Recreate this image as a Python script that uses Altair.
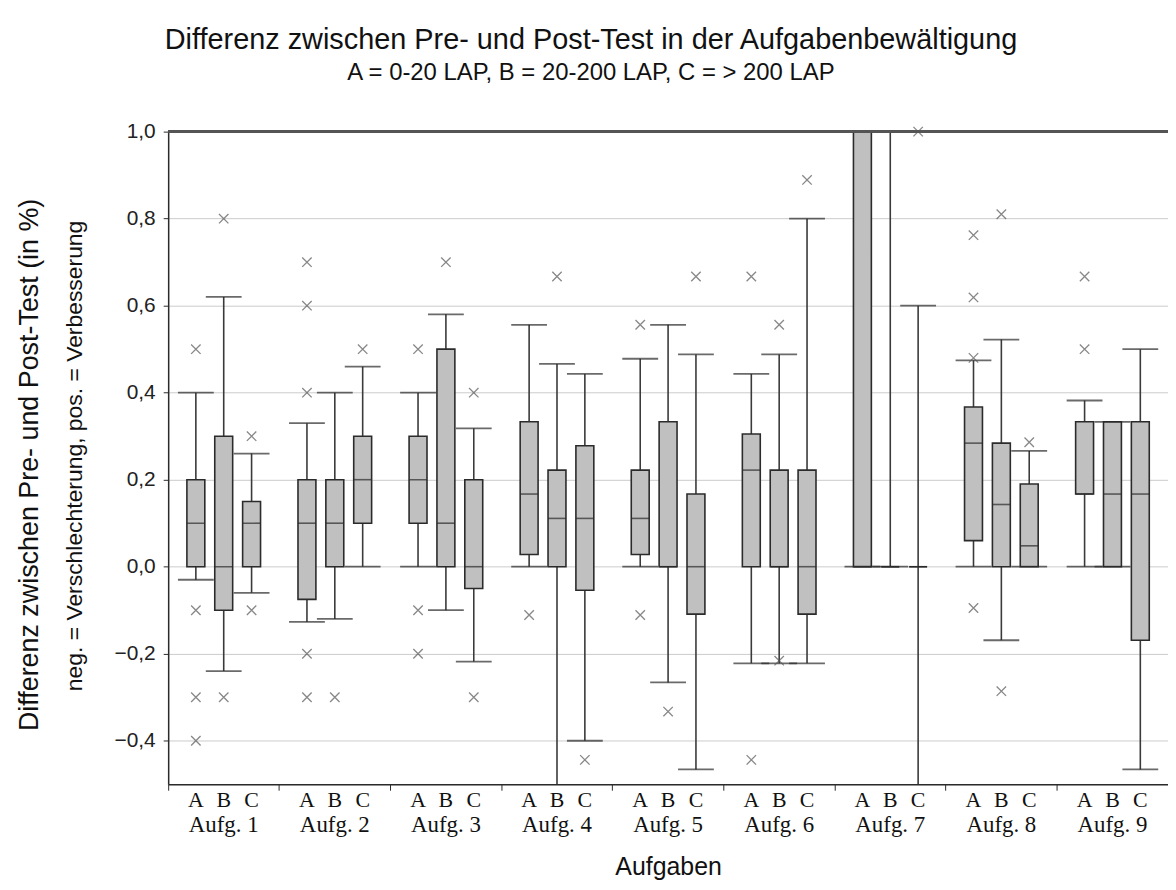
import altair as alt
import pandas as pd

groups = [f"Aufg. {i}" for i in range(1, 10)]
cats = ["A", "B", "C"]

# per group A, B, C
lower_whisker = [-0.03, -0.24, -0.06,
                 -0.127, -0.12, 0.0,
                 0.0, -0.10, -0.218,
                 0.0, -0.60, -0.40,
                 0.0, -0.266, -0.466,
                 -0.222, -0.222, -0.222,
                 0.0, 0.0, -0.60,
                 0.0, -0.169, 0.0,
                 0.0, 0.0, -0.466]
q1 = [0.0, -0.10, 0.0,
      -0.075, 0.0, 0.10,
      0.10, 0.0, -0.05,
      0.028, 0.0, -0.054,
      0.028, 0.0, -0.109,
      0.0, 0.0, -0.109,
      0.0, 0.0, 0.0,
      0.06, 0.0, 0.0,
      0.167, 0.0, -0.169]
median = [0.10, 0.0, 0.10,
          0.10, 0.10, 0.20,
          0.20, 0.10, 0.0,
          0.167, 0.111, 0.111,
          0.111, 0.0, 0.0,
          0.222, 0.0, 0.0,
          0.0, 0.0, 0.0,
          0.284, 0.143, 0.048,
          0.167, 0.167, 0.167]
q3 = [0.20, 0.30, 0.15,
      0.20, 0.20, 0.30,
      0.30, 0.50, 0.20,
      0.333, 0.222, 0.278,
      0.222, 0.333, 0.167,
      0.305, 0.222, 0.222,
      1.0, 0.0, 0.0,
      0.367, 0.284, 0.19,
      0.333, 0.333, 0.333]
upper_whisker = [0.40, 0.62, 0.26,
                 0.33, 0.40, 0.46,
                 0.40, 0.58, 0.318,
                 0.556, 0.466, 0.443,
                 0.478, 0.556, 0.488,
                 0.443, 0.488, 0.80,
                 1.0, 1.0, 0.60,
                 0.474, 0.522, 0.266,
                 0.382, 0.333, 0.50]

out_group = [1, 1, 1, 1, 1, 1, 1, 1,
             2, 2, 2, 2, 2, 2, 2,
             3, 3, 3, 3, 3, 3,
             4, 4, 4,
             5, 5, 5, 5,
             6, 6, 6, 6, 6,
             7,
             8, 8, 8, 8, 8, 8, 8,
             9, 9]
out_cat = ["A", "A", "A", "A", "B", "B", "C", "C",
           "A", "A", "A", "A", "A", "B", "C",
           "A", "A", "A", "B", "C", "C",
           "A", "B", "C",
           "A", "A", "B", "C",
           "A", "A", "B", "B", "C",
           "C",
           "A", "A", "A", "A", "B", "B", "C",
           "A", "A"]
out_value = [0.5, -0.1, -0.3, -0.4, 0.8, -0.3, 0.3, -0.1,
             0.7, 0.6, 0.4, -0.2, -0.3, -0.3, 0.5,
             0.5, -0.1, -0.2, 0.7, 0.4, -0.3,
             -0.111, 0.667, -0.444,
             0.556, -0.111, -0.333, 0.667,
             0.667, -0.444, 0.556, -0.216, 0.889,
             1.0,
             0.762, 0.619, 0.48, -0.095, 0.81, -0.286, 0.286,
             0.667, 0.5]

boxes = pd.DataFrame({
    "group": [g for g in groups for _ in cats],
    "cat": cats * len(groups),
    "lw": lower_whisker, "q1": q1, "med": median, "q3": q3, "uw": upper_whisker,
})
outliers = pd.DataFrame({
    "group": [groups[i - 1] for i in out_group],
    "cat": out_cat,
    "value": out_value,
})

W, H = 1005, 656
DARK = "#2b2b2b"

xenc = alt.X("group:N", sort=groups,
             scale=alt.Scale(paddingInner=0, paddingOuter=0),
             axis=alt.Axis(title="Aufgaben", labelAngle=0, bandPosition=0,
                           tickSize=6, tickColor=DARK,
                           domainColor=DARK, domainWidth=1.5,
                           labelFont="Liberation Serif", labelFontSize=23,
                           labelColor="#111", labelPadding=24,
                           titleFont="Liberation Sans", titleFontSize=25,
                           titleFontWeight="normal", titleColor="#111",
                           titlePadding=18, grid=False))
xoff = alt.XOffset("cat:N", sort=cats,
                   scale=alt.Scale(paddingInner=0.357, paddingOuter=0.672))
yscale = alt.Scale(domain=[-0.5, 1.0], nice=False, zero=False)
yaxis = alt.Axis(values=[-0.4, -0.2, 0.0, 0.2, 0.4, 0.6, 0.8, 1.0],
                 labelExpr="replace(format(datum.value, '.1f'), '.', ',')",
                 title=None, grid=True, gridColor="#cccccc", gridWidth=1,
                 tickSize=5, tickColor=DARK, domainColor=DARK, domainWidth=1.5,
                 labelFont="Liberation Sans", labelFontSize=21,
                 labelColor="#222", labelPadding=8)

base = alt.Chart(boxes)

whisk = base.mark_rule(color="#3a3a3a", strokeWidth=1.6, clip=True).encode(
    x=xenc, xOffset=xoff,
    y=alt.Y("lw:Q", scale=yscale, axis=yaxis), y2="uw:Q")
box = base.mark_bar(fill="#c0c0c0", stroke=DARK, strokeWidth=1.6, clip=True).encode(
    x=xenc, xOffset=xoff, y=alt.Y("q1:Q", scale=yscale), y2="q3:Q")
med = base.mark_tick(color=DARK, thickness=1.6, size=18, clip=True).encode(
    x=xenc, xOffset=xoff, y=alt.Y("med:Q", scale=yscale))
cap_lo = base.mark_tick(color=DARK, thickness=1.8, size=36, clip=True).encode(
    x=xenc, xOffset=xoff, y=alt.Y("lw:Q", scale=yscale))
cap_hi = base.mark_tick(color=DARK, thickness=1.8, size=36, clip=True).encode(
    x=xenc, xOffset=xoff, y=alt.Y("uw:Q", scale=yscale))
pts = alt.Chart(outliers).mark_point(
    shape="M-1,-1L1,1M-1,1L1,-1", filled=False, stroke="#555555",
    strokeWidth=1.3, size=90).encode(
    x=xenc, xOffset=xoff, y=alt.Y("value:Q", scale=yscale))
abc = base.mark_text(font="Liberation Serif", fontSize=22, color="#111",
                     baseline="middle").encode(
    x=xenc, xOffset=xoff, y=alt.value(H + 16), text="cat:N")
frame = alt.Chart(boxes).mark_rule(color="#555555", strokeWidth=1.5).encode(
    y=alt.datum(1.0, scale=yscale))

titles = pd.DataFrame({
    "t": ["Differenz zwischen Pre- und Post-Test in der Aufgabenbewältigung",
          "A = 0-20 LAP, B = 20-200 LAP, C = > 200 LAP"],
})
t1 = alt.Chart(titles.iloc[[0]]).mark_text(font="Liberation Sans", fontSize=29,
                                           color="#111").encode(
    x=alt.value(425), y=alt.value(-92), text="t:N")
t2 = alt.Chart(titles.iloc[[1]]).mark_text(font="Liberation Sans", fontSize=24,
                                           color="#111").encode(
    x=alt.value(425), y=alt.value(-59), text="t:N")

ytitles = pd.DataFrame({
    "t": ["Differenz zwischen Pre- und Post-Test (in %)",
          "neg. = Verschlechterung, pos. = Verbesserung"],
})
yt1 = alt.Chart(ytitles.iloc[[0]]).mark_text(font="Liberation Sans", fontSize=27,
                                             angle=270, color="#111").encode(
    x=alt.value(-139), y=alt.value(335), text="t:N")
yt2 = alt.Chart(ytitles.iloc[[1]]).mark_text(font="Liberation Sans", fontSize=23,
                                             angle=270, color="#111").encode(
    x=alt.value(-94), y=alt.value(326), text="t:N")

chart = alt.layer(whisk, box, med, cap_lo, cap_hi, pts, abc, frame,
                  t1, t2, yt1, yt2).properties(
    width=W, height=H,
    autosize=alt.AutoSizeParams(type="none"),
    padding={"left": 161, "top": 122, "right": 0, "bottom": 96},
).configure_view(stroke=None).configure(background="white")

chart.save("out.html", embed_options={"renderer": "svg", "actions": False})
